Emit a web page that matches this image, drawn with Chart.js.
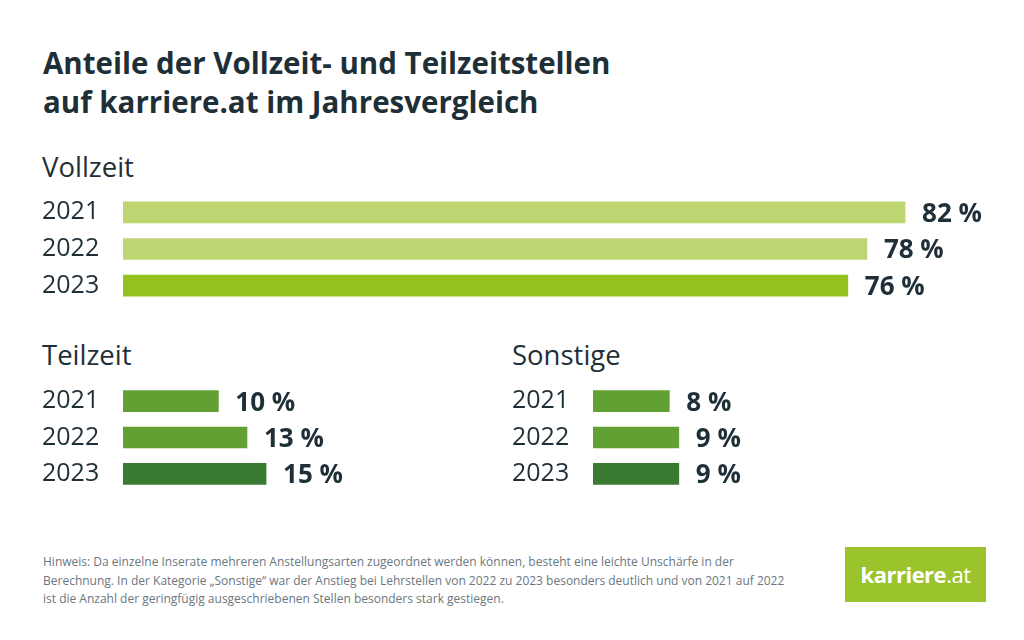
<!DOCTYPE html>
<html>
<head>
<meta charset="utf-8">
<script src="https://cdn.jsdelivr.net/npm/chart.js@4"></script>
<style>
  body { margin:0; width:1024px; height:640px; background:#fff; position:relative; overflow:hidden; font-family:"Open Sans", sans-serif; color:#1f2f38; }
  .abs { position:absolute; }
  h1 { position:absolute; left:43px; top:43px; margin:0; font-size:29.5px; line-height:39px; font-weight:700; color:#1f2f38; }
  .group { position:absolute; font-size:27.5px; font-weight:500; margin:0; line-height:1; }
  .note { position:absolute; left:43px; top:553px; font-size:12px; line-height:18.5px; color:#6b7780; white-space:nowrap; }
  .logo { position:absolute; left:845px; top:547px; width:141px; height:55px; background:#9bc32c; color:#fff; font-size:22px; line-height:55px; text-align:center; letter-spacing:-0.5px; }
  canvas { position:absolute; }
</style>
</head>
<body>
<h1>Anteile der Vollzeit- und Teilzeitstellen<br>auf karriere.at im Jahresvergleich</h1>
<div class="group" style="left:42px; top:153px;">Vollzeit</div>
<div class="group" style="left:42px; top:341px;">Teilzeit</div>
<div class="group" style="left:512px; top:341px;">Sonstige</div>

<div class="abs" style="left:0; top:194px; width:1024px; height:110px;"><canvas id="vollzeit"></canvas></div>
<div class="abs" style="left:0; top:383px; width:470px; height:109px;"><canvas id="teilzeit"></canvas></div>
<div class="abs" style="left:470px; top:383px; width:554px; height:109px;"><canvas id="sonstige"></canvas></div>

<div class="note">Hinweis: Da einzelne Inserate mehreren Anstellungsarten zugeordnet werden können, besteht eine leichte Unschärfe in der<br>Berechnung. In der Kategorie „Sonstige“ war der Anstieg bei Lehrstellen von 2022 zu 2023 besonders deutlich und von 2021 auf 2022<br>ist die Anzahl der geringfügig ausgeschriebenen Stellen besonders stark gestiegen.</div>
<div class="logo"><b>karriere</b>.at</div>

<script>
const years = ['2021', '2022', '2023'];
const vollzeit = [82, 78, 76];
const teilzeit = [10, 13, 15];
const sonstige = [8, 9, 9];

const lightColors = ['#bdd672', '#bdd672', '#95c11f'];
const darkColors = ['#62a033', '#62a033', '#3b7a32'];

const PX_PER_PCT = 9.537;

// value labels next to each bar
const valueLabels = {
  id: 'valueLabels',
  afterDatasetsDraw(chart) {
    const ctx = chart.ctx;
    const ds = chart.data.datasets[0];
    ctx.save();
    ctx.font = 'bold 26px "Open Sans", sans-serif';
    ctx.fillStyle = '#1f2f38';
    ctx.textAlign = 'left';
    ctx.textBaseline = 'middle';
    chart.getDatasetMeta(0).data.forEach((bar, i) => {
      ctx.fillText(ds.data[i] + ' %', bar.x + 17, bar.y + 2);
    });
    ctx.restore();
  }
};

function makeChart(id, values, colors, xMax, boxWidth) {
  const chartWidth = xMax * PX_PER_PCT;
  const rightPad = boxWidth - 43 - 80 - chartWidth;
  return new Chart(document.getElementById(id).getContext('2d'), {
    type: 'bar',
    data: { labels: years, datasets: [{ data: values, backgroundColor: colors, barThickness: 21, borderSkipped: false }] },
    options: {
      indexAxis: 'y',
      responsive: true,
      maintainAspectRatio: false,
      animation: false,
      layout: { padding: { left: 42, right: rightPad, top: 0, bottom: 0 } },
      plugins: { legend: { display: false }, tooltip: { enabled: false } },
      scales: {
        x: { display: false, min: 0, max: xMax },
        y: {
          grid: { display: false, drawTicks: false },
          border: { display: false },
          afterFit: s => { s.width = 81; s.paddingTop = 0; s.paddingBottom = 0; },
          ticks: { crossAlign: 'far', padding: 0, color: '#1f2f38', font: { family: '"Open Sans", sans-serif', size: 25 } }
        }
      }
    },
    plugins: [valueLabels]
  });
}

makeChart('vollzeit', vollzeit, lightColors, 90, 1024);
makeChart('teilzeit', teilzeit, darkColors, 30, 470);
makeChart('sonstige', sonstige, darkColors, 30, 554);
</script>
</body>
</html>
